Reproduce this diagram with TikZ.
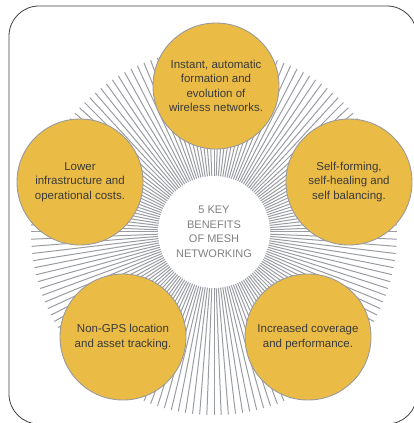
\documentclass[tikz,border=0pt]{standalone}
\usepackage{fontspec}
\setmainfont{Liberation Sans}
\definecolor{benefit}{HTML}{EBBC45}
\definecolor{benefitedge}{HTML}{9A9A9A}
\definecolor{raygray}{HTML}{999CA1}
\definecolor{bodytext}{HTML}{3A3A3A}

\begin{document}
\begin{tikzpicture}[
    x=1pt, y=1pt,
    benefitbox/.style={circle, draw=benefitedge, line width=0.9pt, fill=benefit, minimum size=126pt, inner sep=0pt, align=center, text=bodytext, font=\fontsize{11.5}{14.5}\selectfont},
    hubbox/.style={circle, fill=white, minimum size=112pt, inner sep=0pt, align=center, text=gray, font=\fontsize{11}{14.5}\selectfont},
    ray/.style={raygray, line width=1pt}
]
\useasboundingbox (0,0) rectangle (414,423);

% Frame
\draw[line width=0.8pt, black!75, rounded corners=30pt] (9,-1) rectangle (417,417);

% Rays round the hub
\foreach \a in {0,2.25,...,357.75}
    \draw[ray] (214,191) ++(\a:54) -- ++(\a:129);

% Hub
\node[hubbox] (hub) at (214,191) {5 KEY\\BENEFITS\\OF MESH\\NETWORKING};

% Benefits
\node[benefitbox] (formation) at (216,337) {Instant, automatic\\formation and\\evolution of\\wireless networks.};
\node[benefitbox] (selfheal) at (349,241) {Self-forming,\\self-healing and\\self balancing.};
\node[benefitbox] (costs) at (80,241) {Lower\\infrastructure and\\operational costs.};
\node[benefitbox] (tracking) at (123,86) {Non-GPS location\\and asset tracking.};
\node[benefitbox] (coverage) at (308,86) {Increased coverage\\and performance.};

\end{tikzpicture}
\end{document}
